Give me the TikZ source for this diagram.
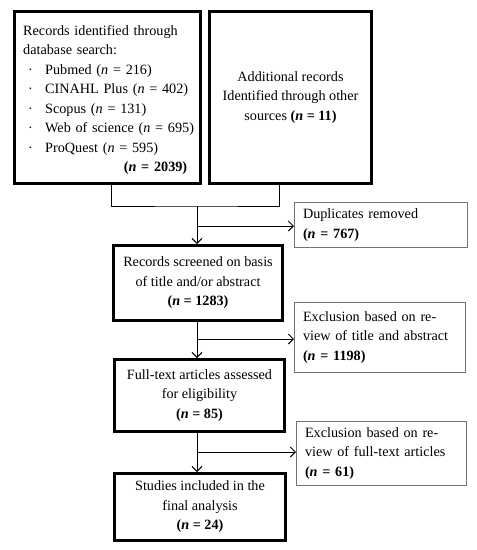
\documentclass[tikz,border=0pt]{standalone}
\usepackage{fontspec}
\setmainfont{Liberation Serif}
\usetikzlibrary{arrows.meta}
\begin{document}
\begin{tikzpicture}[x=1pt,y=-1pt,
  every node/.style={font=\fontsize{14.2}{19.5}\selectfont},
  thickbox/.style={draw=black,line width=3pt,rectangle,inner sep=2pt,align=center},
  thinbox/.style={draw=black!55,line width=1pt,rectangle,inner xsep=8pt,inner ysep=2pt,align=left},
  conn/.style={draw=black,line width=1pt},
  arr/.style={conn,-{Straight Barb[length=5pt,width=10pt]}}]
\useasboundingbox (0,0) rectangle (477,550);
% boxes
\node[thickbox,minimum width=186pt,minimum height=172pt] (db) at (107.5,97.5) {};
\node[anchor=north west,inner sep=0pt,text width=176pt,align=left] (dbtext) at (23,25)
 {Records identified through\\
  database search:\\
  \makebox[22pt][l]{\hspace{5pt}·}Pubmed (\textit{n} = 216)\\
  \makebox[22pt][l]{\hspace{5pt}·}CINAHL Plus (\textit{n} = 402)\\
  \makebox[22pt][l]{\hspace{5pt}·}Scopus (\textit{n} = 131)\\
  \makebox[22pt][l]{\hspace{5pt}·}Web of science (\textit{n} = 695)\\
  \makebox[22pt][l]{\hspace{5pt}·}ProQuest (\textit{n} = 595)\\
  \makebox[164pt][r]{\textbf{(\textit{n} = 2039)}}};
\node[thickbox,minimum width=162pt,minimum height=172pt] (add) at (290.5,97.5)
 {Additional records\\Identified through other\\sources \textbf{(\textit{n} = 11)}};
\node[thickbox,minimum width=169pt,minimum height=75pt] (screen) at (198,283)
 {Records screened on basis\\of title and/or abstract\\\textbf{(\textit{n} = 1283)}};
\node[thickbox,minimum width=170pt,minimum height=72pt] (full) at (199.5,395.5)
 {Full-text articles assessed\\for eligibility\\\textbf{(\textit{n} = 85)}};
\node[thickbox,minimum width=171pt,minimum height=67pt] (final) at (200,507)
 {Studies included in the\\final analysis\\\textbf{(\textit{n} = 24)}};
\node[thinbox,minimum width=173pt,minimum height=45pt,text width=156pt] (dup) at (381,225)
 {Duplicates removed\\\textbf{(\textit{n} = 767)}};
\node[thinbox,minimum width=171pt,minimum height=70pt,text width=154pt] (excl1) at (380,337.5)
 {Exclusion based on re-\\view of title and abstract\\\textbf{(\textit{n} = 1198)}};
\node[thinbox,minimum width=170pt,minimum height=64pt,text width=153pt] (excl2) at (381.5,453.5)
 {Exclusion based on re-\\view of full-text articles\\\textbf{(\textit{n} = 61)}};
% connectors
\coordinate (l1) at (111,185);
\coordinate (r1) at (279,185);
\coordinate (m0) at (197,206);
\coordinate (b1) at (197,226);
\coordinate (b2) at (197,339);
\coordinate (b3) at (197,452);
\draw[conn] (l1) |- (m0) -| (r1);
\draw[arr] (m0) -- (m0 |- screen.north);
\draw[arr] (b1) -- (b1 -| dup.west);
\draw[arr] (screen.south -| m0) -- (full.north -| m0);
\draw[arr] (b2) -- (b2 -| excl1.west);
\draw[arr] (full.south -| m0) -- (final.north -| m0);
\draw[arr] (b3) -- (b3 -| excl2.west);
\end{tikzpicture}
\end{document}
